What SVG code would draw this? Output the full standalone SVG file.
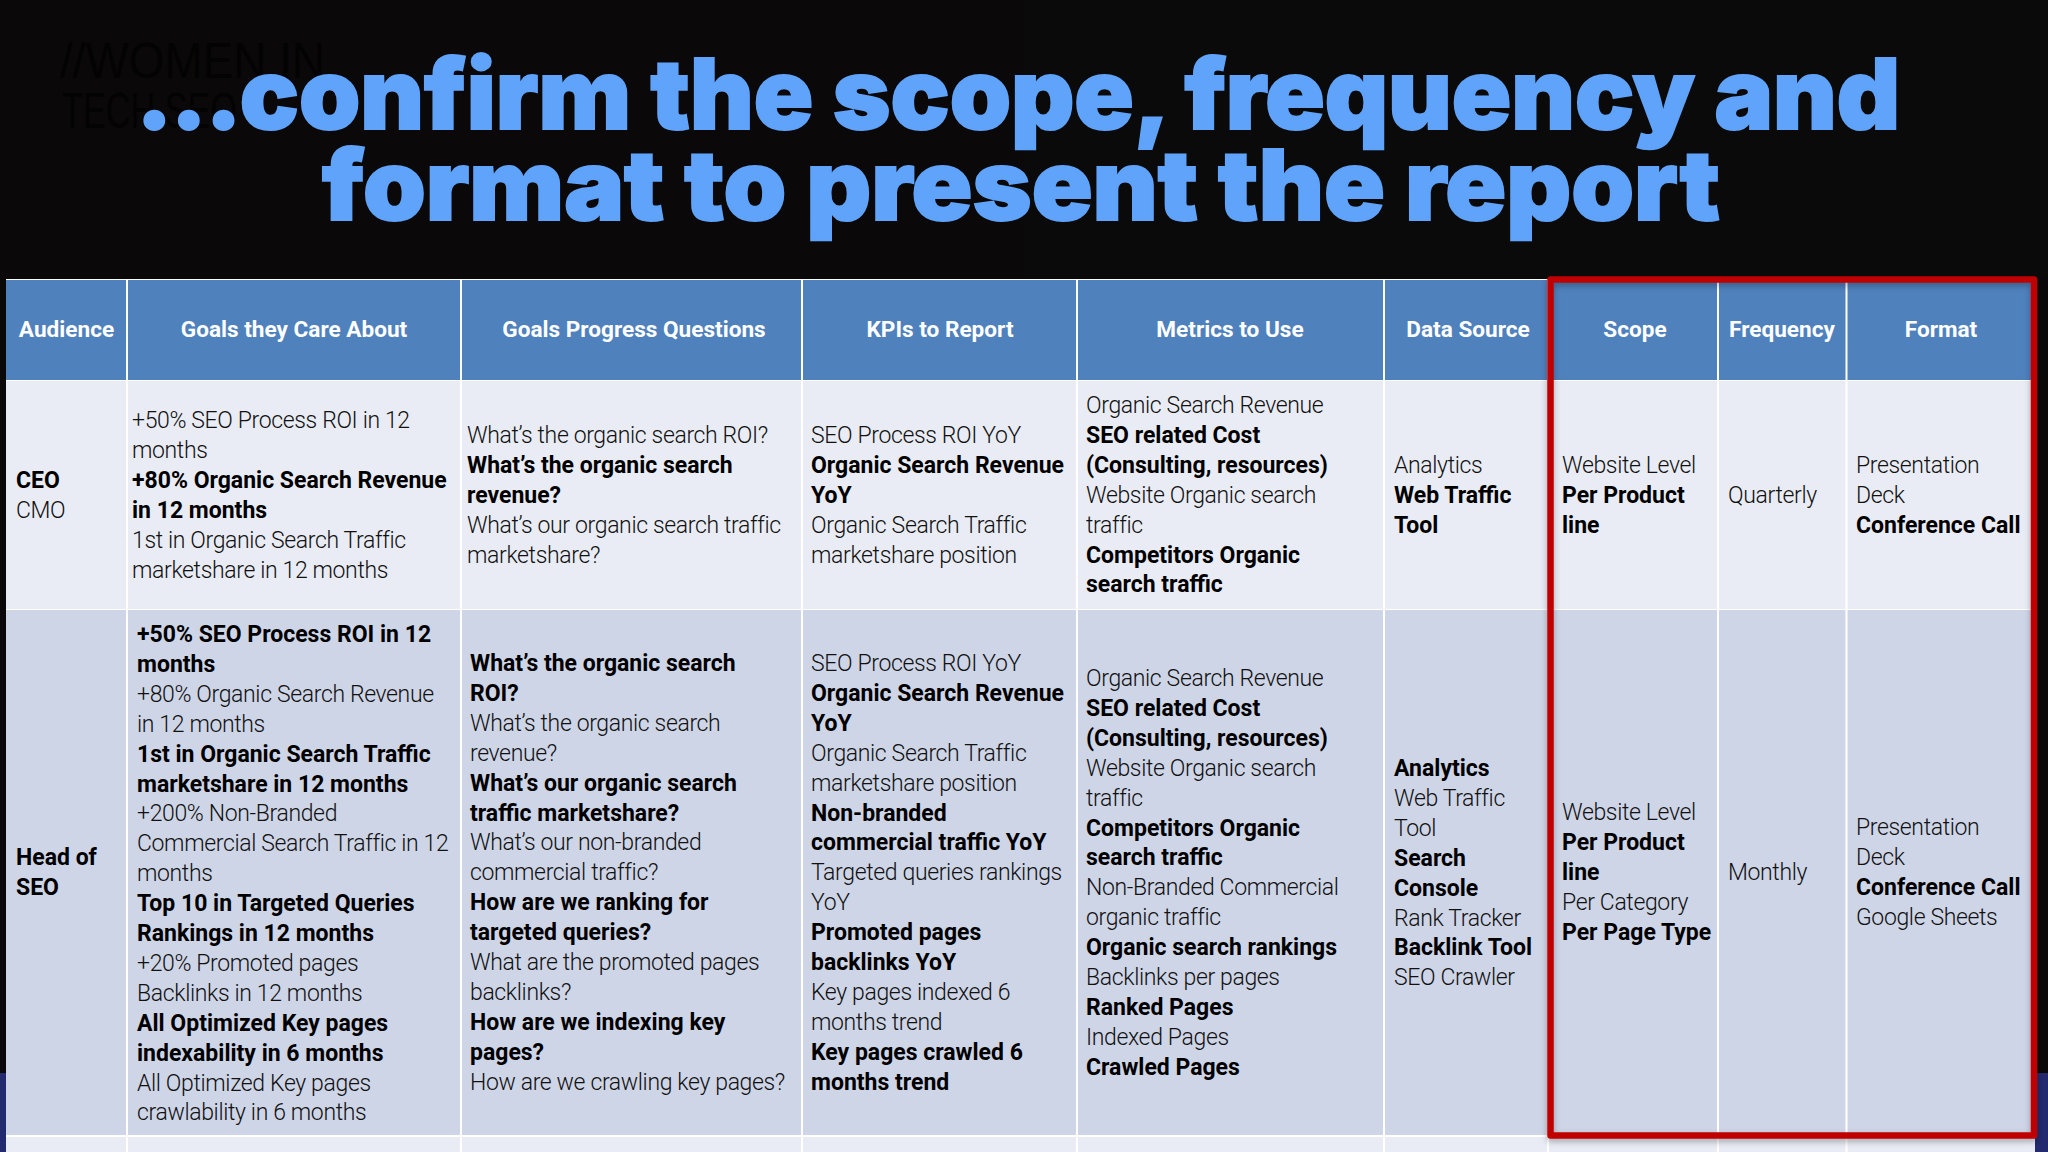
<svg xmlns="http://www.w3.org/2000/svg" width="2048" height="1152" viewBox="0 0 2048 1152">
<defs>
<style>
.t{font-family:"Roboto","Liberation Sans",sans-serif;font-size:23px;font-weight:300;fill:#111;letter-spacing:-0.36px}
.b{font-weight:700;fill:#000;letter-spacing:0}
.h{font-family:"Roboto","Liberation Sans",sans-serif;font-size:22.600px;font-weight:700;fill:#fff;text-anchor:middle}
.ttl{font-family:"Inter","Lato",sans-serif;font-size:97px;font-weight:900;fill:#5fa3fb;stroke:#5fa3fb;stroke-width:2px}
.ghost{font-family:"Liberation Sans",sans-serif;font-size:50px;fill:#040303}
.gl{stroke:#fff;stroke-width:2}
</style>
<filter id="sh" x="-5%" y="-5%" width="110%" height="110%"><feDropShadow dx="0" dy="3" stdDeviation="3" flood-color="#000" flood-opacity="0.3"/></filter>
</defs>
<rect width="2048" height="1152" fill="#0a0809"/>
<rect x="1024" width="1024" height="278" fill="#0a0a0b"/>
<rect y="1073" width="8" height="79" fill="#232a6e"/>
<rect x="2034" y="1073" width="14" height="79" fill="#232a6e"/>
<g id="title">
<text class="ghost" x="60" y="78" textLength="265" lengthAdjust="spacingAndGlyphs">//WOMEN IN</text>
<text class="ghost" x="62" y="128" textLength="175" lengthAdjust="spacingAndGlyphs">TECH SEO</text>
<text class="ttl" x="136" y="129" textLength="1764" lengthAdjust="spacingAndGlyphs"><tspan letter-spacing="-2px">...</tspan>confirm the scope, frequency and</text>
<text class="ttl" x="322" y="220" textLength="1398" lengthAdjust="spacingAndGlyphs">format to present the report</text>
</g>
<g id="table">
<rect x="6" y="279" width="2029" height="873" fill="#fff"/>
<rect x="6" y="280" width="2029" height="100" fill="#4f81bd"/>
<rect x="6" y="381" width="2029" height="228" fill="#e9ecf4"/>
<rect x="6" y="610" width="2029" height="525" fill="#ced5e7"/>
<rect x="6" y="1137" width="2029" height="15" fill="#e9ecf4"/>
<g class="gl">
<path d="M127 279V1152M461 279V1152M802 279V1152M1077 279V1152M1384 279V1152M1548 279V1152M1718 279V1152M1846.500 279V1152"/>
</g>
</g>
<g id="headers">
<text class="h" x="66.500" y="337">Audience</text>
<text class="h" x="294" y="337">Goals they Care About</text>
<text class="h" x="634" y="337">Goals Progress Questions</text>
<text class="h" x="940" y="337">KPIs to Report</text>
<text class="h" x="1230" y="337">Metrics to Use</text>
<text class="h" x="1468" y="337">Data Source</text>
<text class="h" x="1635" y="337">Scope</text>
<text class="h" x="1782" y="337">Frequency</text>
<text class="h" x="1941" y="337">Format</text>
</g>
<g id="row-ceo">
<text class="t" y="488"><tspan x="16" class="b">CEO</tspan><tspan x="16" dy="29.900">CMO</tspan></text>
<text class="t" y="428"><tspan x="132">+50% SEO Process ROI in 12</tspan><tspan x="132" dy="29.900">months</tspan><tspan x="132" dy="29.900" class="b">+80% Organic Search Revenue</tspan><tspan x="132" dy="29.900" class="b">in 12 months</tspan><tspan x="132" dy="29.900">1st in Organic Search Traffic</tspan><tspan x="132" dy="29.900">marketshare in 12 months</tspan></text>
<text class="t" y="443"><tspan x="467">What’s the organic search ROI?</tspan><tspan x="467" dy="29.900" class="b">What’s the organic search</tspan><tspan x="467" dy="29.900" class="b">revenue?</tspan><tspan x="467" dy="29.900">What’s our organic search traffic</tspan><tspan x="467" dy="29.900">marketshare?</tspan></text>
<text class="t" y="443"><tspan x="811">SEO Process ROI YoY</tspan><tspan x="811" dy="29.900" class="b">Organic Search Revenue</tspan><tspan x="811" dy="29.900" class="b">YoY</tspan><tspan x="811" dy="29.900">Organic Search Traffic</tspan><tspan x="811" dy="29.900">marketshare position</tspan></text>
<text class="t" y="413"><tspan x="1086">Organic Search Revenue</tspan><tspan x="1086" dy="29.900" class="b">SEO related Cost</tspan><tspan x="1086" dy="29.900" class="b">(Consulting, resources)</tspan><tspan x="1086" dy="29.900">Website Organic search</tspan><tspan x="1086" dy="29.900">traffic</tspan><tspan x="1086" dy="29.900" class="b">Competitors Organic</tspan><tspan x="1086" dy="29.900" class="b">search traffic</tspan></text>
<text class="t" y="473"><tspan x="1394">Analytics</tspan><tspan x="1394" dy="29.900" class="b">Web Traffic</tspan><tspan x="1394" dy="29.900" class="b">Tool</tspan></text>
<text class="t" y="473"><tspan x="1562">Website Level</tspan><tspan x="1562" dy="29.900" class="b">Per Product</tspan><tspan x="1562" dy="29.900" class="b">line</tspan></text>
<text class="t" x="1728" y="503">Quarterly</text>
<text class="t" y="473"><tspan x="1856">Presentation</tspan><tspan x="1856" dy="29.900">Deck</tspan><tspan x="1856" dy="29.900" class="b">Conference Call</tspan></text>
</g>
<g id="row-seo">
<text class="t" y="865"><tspan x="16" class="b">Head of</tspan><tspan x="16" dy="29.900" class="b">SEO</tspan></text>
<text class="t" y="642"><tspan x="137" class="b">+50% SEO Process ROI in 12</tspan><tspan x="137" dy="29.900" class="b">months</tspan><tspan x="137" dy="29.900">+80% Organic Search Revenue</tspan><tspan x="137" dy="29.900">in 12 months</tspan><tspan x="137" dy="29.900" class="b">1st in Organic Search Traffic</tspan><tspan x="137" dy="29.900" class="b">marketshare in 12 months</tspan><tspan x="137" dy="29.900">+200% Non-Branded</tspan><tspan x="137" dy="29.900">Commercial Search Traffic in 12</tspan><tspan x="137" dy="29.900">months</tspan><tspan x="137" dy="29.900" class="b">Top 10 in Targeted Queries</tspan><tspan x="137" dy="29.900" class="b">Rankings in 12 months</tspan><tspan x="137" dy="29.900">+20% Promoted pages</tspan><tspan x="137" dy="29.900">Backlinks in 12 months</tspan><tspan x="137" dy="29.900" class="b">All Optimized Key pages</tspan><tspan x="137" dy="29.900" class="b">indexability in 6 months</tspan><tspan x="137" dy="29.900">All Optimized Key pages</tspan><tspan x="137" dy="29.900">crawlability in 6 months</tspan></text>
<text class="t" y="671"><tspan x="470" class="b">What’s the organic search</tspan><tspan x="470" dy="29.900" class="b">ROI?</tspan><tspan x="470" dy="29.900">What’s the organic search</tspan><tspan x="470" dy="29.900">revenue?</tspan><tspan x="470" dy="29.900" class="b">What’s our organic search</tspan><tspan x="470" dy="29.900" class="b">traffic marketshare?</tspan><tspan x="470" dy="29.900">What’s our non-branded</tspan><tspan x="470" dy="29.900">commercial traffic?</tspan><tspan x="470" dy="29.900" class="b">How are we ranking for</tspan><tspan x="470" dy="29.900" class="b">targeted queries?</tspan><tspan x="470" dy="29.900">What are the promoted pages</tspan><tspan x="470" dy="29.900">backlinks?</tspan><tspan x="470" dy="29.900" class="b">How are we indexing key</tspan><tspan x="470" dy="29.900" class="b">pages?</tspan><tspan x="470" dy="29.900">How are we crawling key pages?</tspan></text>
<text class="t" y="671"><tspan x="811">SEO Process ROI YoY</tspan><tspan x="811" dy="29.900" class="b">Organic Search Revenue</tspan><tspan x="811" dy="29.900" class="b">YoY</tspan><tspan x="811" dy="29.900">Organic Search Traffic</tspan><tspan x="811" dy="29.900">marketshare position</tspan><tspan x="811" dy="29.900" class="b">Non-branded</tspan><tspan x="811" dy="29.900" class="b">commercial traffic YoY</tspan><tspan x="811" dy="29.900">Targeted queries rankings</tspan><tspan x="811" dy="29.900">YoY</tspan><tspan x="811" dy="29.900" class="b">Promoted pages</tspan><tspan x="811" dy="29.900" class="b">backlinks YoY</tspan><tspan x="811" dy="29.900">Key pages indexed 6</tspan><tspan x="811" dy="29.900">months trend</tspan><tspan x="811" dy="29.900" class="b">Key pages crawled 6</tspan><tspan x="811" dy="29.900" class="b">months trend</tspan></text>
<text class="t" y="686"><tspan x="1086">Organic Search Revenue</tspan><tspan x="1086" dy="29.900" class="b">SEO related Cost</tspan><tspan x="1086" dy="29.900" class="b">(Consulting, resources)</tspan><tspan x="1086" dy="29.900">Website Organic search</tspan><tspan x="1086" dy="29.900">traffic</tspan><tspan x="1086" dy="29.900" class="b">Competitors Organic</tspan><tspan x="1086" dy="29.900" class="b">search traffic</tspan><tspan x="1086" dy="29.900">Non-Branded Commercial</tspan><tspan x="1086" dy="29.900">organic traffic</tspan><tspan x="1086" dy="29.900" class="b">Organic search rankings</tspan><tspan x="1086" dy="29.900">Backlinks per pages</tspan><tspan x="1086" dy="29.900" class="b">Ranked Pages</tspan><tspan x="1086" dy="29.900">Indexed Pages</tspan><tspan x="1086" dy="29.900" class="b">Crawled Pages</tspan></text>
<text class="t" y="776"><tspan x="1394" class="b">Analytics</tspan><tspan x="1394" dy="29.900">Web Traffic</tspan><tspan x="1394" dy="29.900">Tool</tspan><tspan x="1394" dy="29.900" class="b">Search</tspan><tspan x="1394" dy="29.900" class="b">Console</tspan><tspan x="1394" dy="29.900">Rank Tracker</tspan><tspan x="1394" dy="29.900" class="b">Backlink Tool</tspan><tspan x="1394" dy="29.900">SEO Crawler</tspan></text>
<text class="t" y="820"><tspan x="1562">Website Level</tspan><tspan x="1562" dy="29.900" class="b">Per Product</tspan><tspan x="1562" dy="29.900" class="b">line</tspan><tspan x="1562" dy="29.900">Per Category</tspan><tspan x="1562" dy="29.900" class="b">Per Page Type</tspan></text>
<text class="t" x="1728" y="880">Monthly</text>
<text class="t" y="835"><tspan x="1856">Presentation</tspan><tspan x="1856" dy="29.900">Deck</tspan><tspan x="1856" dy="29.900" class="b">Conference Call</tspan><tspan x="1856" dy="29.900">Google Sheets</tspan></text>
</g>
<g id="highlight"><rect x="1550.500" y="279.500" width="483.500" height="856" fill="none" stroke="#c00000" stroke-width="6.500" stroke-linejoin="round" filter="url(#sh)"/></g>
</svg>
